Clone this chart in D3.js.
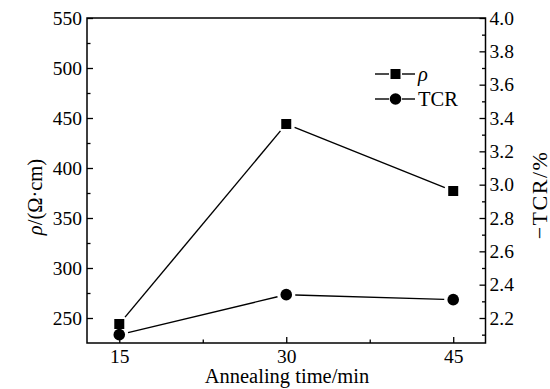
<!DOCTYPE html>
<html>
<head>
<meta charset="utf-8">
<script src="https://cdn.jsdelivr.net/npm/d3@7/dist/d3.min.js"></script>
</head>
<body style="margin:0">
<svg id="chart" width="550" height="389" style="display:block;background:#fff"></svg>
<script>
// ---- data ----
const times = [15, 30, 45];
const rho = [244, 444, 377];
const tcr = [2.10, 2.34, 2.31];
const xTicks = [15, 30, 45];
const xMinorTicks = [22.5, 37.5];
const leftTicks = [250, 300, 350, 400, 450, 500, 550];
const leftMinorTicks = [275, 325, 375, 425, 475, 525];
const rightTicks = [2.2, 2.4, 2.6, 2.8, 3.0, 3.2, 3.4, 3.6, 3.8, 4.0];
const rightMinorTicks = [2.1, 2.3, 2.5, 2.7, 2.9, 3.1, 3.3, 3.5, 3.7, 3.9];
const seriesNames = ["ρ", "TCR"];

// ---- layout ----
const FONT = "Liberation Serif";
const L = 87, R = 485.5, T = 18, B = 343;
const FS = 19.5, TFS = 20.5;
const svg = d3.select("#chart");

const x = d3.scaleLinear().domain([12.1, 47.9]).range([L, R]);
const yL = d3.scaleLinear().domain([225, 550]).range([B, T]);
const yR = d3.scaleLinear().domain([2.05, 4.0]).range([B, T]);

function setFont(sel, size) {
  const s = size || FS;
  return sel.attr("font-family", FONT).attr("font-size", s).attr("fill", "#000")
    .style("font-family", FONT).style("font-size", s + "px");
}

// frame
svg.append("rect").attr("x", L).attr("y", T).attr("width", R - L).attr("height", B - T)
  .attr("fill", "none").attr("stroke", "#000").attr("stroke-width", 1.5);

function styleAxis(g) {
  g.attr("font-family", FONT).attr("font-size", FS);
  g.select(".domain").remove();
  g.selectAll(".tick line").attr("stroke", "#000").attr("stroke-width", 1.3);
  g.selectAll("text").call(setFont, FS);
}

// bottom axis
svg.append("g").attr("transform", `translate(0,${B})`)
  .call(d3.axisBottom(x).tickValues(xTicks).tickFormat(d3.format("d")).tickSize(-6).tickPadding(6))
  .call(styleAxis);
svg.append("g").attr("transform", `translate(0,${B})`)
  .call(d3.axisBottom(x).tickValues(xMinorTicks).tickFormat("").tickSize(-3.5))
  .call(styleAxis);

// left axis
svg.append("g").attr("transform", `translate(${L},0)`)
  .call(d3.axisLeft(yL).tickValues(leftTicks).tickFormat(d3.format("d")).tickSize(-6).tickPadding(5))
  .call(styleAxis);
svg.append("g").attr("transform", `translate(${L},0)`)
  .call(d3.axisLeft(yL).tickValues(leftMinorTicks).tickFormat("").tickSize(-3.5))
  .call(styleAxis);

// right axis
svg.append("g").attr("transform", `translate(${R},0)`)
  .call(d3.axisRight(yR).tickValues(rightTicks).tickFormat(d3.format(".1f")).tickSize(-6).tickPadding(4))
  .call(styleAxis);
svg.append("g").attr("transform", `translate(${R},0)`)
  .call(d3.axisRight(yR).tickValues(rightMinorTicks).tickFormat("").tickSize(-3.5))
  .call(styleAxis);

// axis titles
svg.append("text").call(setFont, TFS).attr("x", 287).attr("y", 383)
  .attr("text-anchor", "middle")
  .text("Annealing time/min");

const lt = svg.append("text").call(setFont, TFS).attr("transform", "translate(42,197) rotate(-90)")
  .attr("text-anchor", "middle");
lt.append("tspan").call(setFont, TFS).attr("font-style", "italic").style("font-style", "italic").text("ρ");
lt.append("tspan").call(setFont, TFS).text("/(Ω·cm)");

svg.append("text").call(setFont, 22).attr("transform", "translate(547,195) rotate(-90)")
  .attr("text-anchor", "middle").attr("letter-spacing", 1.5).style("letter-spacing", "1.5px")
  .text("−TCR/%");

// lines with gaps near markers
function gappedSegments(pts, gap) {
  const segs = [];
  for (let i = 0; i < pts.length - 1; i++) {
    const [x1, y1] = pts[i], [x2, y2] = pts[i + 1];
    const dx = x2 - x1, dy = y2 - y1, len = Math.hypot(dx, dy);
    const ux = dx / len, uy = dy / len;
    segs.push([[x1 + ux * gap, y1 + uy * gap], [x2 - ux * gap, y2 - uy * gap]]);
  }
  return segs;
}
const line = d3.line();

const rhoPts = times.map((t, i) => [x(t), yL(rho[i])]);
const tcrPts = times.map((t, i) => [x(t), yR(tcr[i])]);

[rhoPts, tcrPts].forEach(pts => {
  svg.append("g").selectAll("path").data(gappedSegments(pts, 9)).join("path")
    .attr("d", d => line(d)).attr("fill", "none").attr("stroke", "#000").attr("stroke-width", 1.4);
});

const SQ = 10, CR = 5.8;
svg.append("g").selectAll("rect").data(rhoPts).join("rect")
  .attr("x", d => d[0] - SQ / 2).attr("y", d => d[1] - SQ / 2)
  .attr("width", SQ).attr("height", SQ).attr("fill", "#000");
svg.append("g").selectAll("circle").data(tcrPts).join("circle")
  .attr("cx", d => d[0]).attr("cy", d => d[1]).attr("r", CR).attr("fill", "#000");

// legend
const lg = svg.append("g");
const rows = [74, 99];
seriesNames.forEach((name, i) => {
  const yy = rows[i];
  lg.append("line").attr("x1", 375).attr("x2", 389).attr("y1", yy).attr("y2", yy)
    .attr("stroke", "#000").attr("stroke-width", 1.4);
  lg.append("line").attr("x1", 402).attr("x2", 415).attr("y1", yy).attr("y2", yy)
    .attr("stroke", "#000").attr("stroke-width", 1.4);
  if (i === 0) {
    lg.append("rect").attr("x", 395.5 - SQ / 2).attr("y", yy - SQ / 2).attr("width", SQ).attr("height", SQ).attr("fill", "#000");
  } else {
    lg.append("circle").attr("cx", 395.5).attr("cy", yy).attr("r", CR).attr("fill", "#000");
  }
  lg.append("text").call(setFont, TFS).attr("x", 418).attr("y", yy + 7)
    .style("font-style", i === 0 ? "italic" : "normal").text(name);
});
</script>
</body>
</html>
